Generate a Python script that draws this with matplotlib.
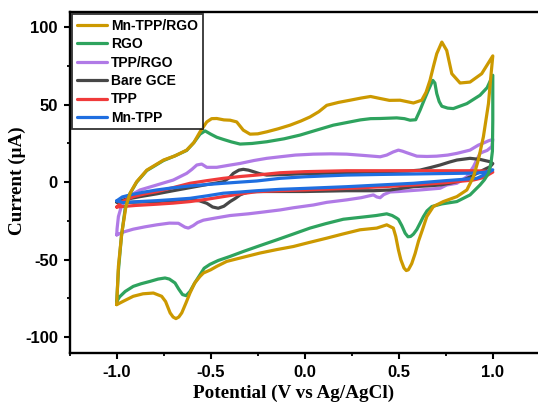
import matplotlib
matplotlib.use("Agg")
import matplotlib.pyplot as plt
from matplotlib.ticker import MultipleLocator

labels = ["Mn-TPP/RGO", "RGO", "TPP/RGO", "Bare GCE", "TPP", "Mn-TPP"]
colors = ["#CC9900", "#2EA35E", "#B07AE6", "#474747", "#F03A3A", "#1F6EE0"]

# Mn-TPP/RGO
gold_up_x = [-1.0, -0.991, -0.973, -0.951, -0.929, -0.894, -0.84, -0.751, -0.69, -0.628, -0.590, -0.557, -0.521, -0.495, -0.468, -0.43, -0.397, -0.362, -0.327, -0.291, -0.25, -0.202, -0.14, -0.078, -0.02, 0.028, 0.075, 0.117, 0.18, 0.241, 0.30, 0.35, 0.401, 0.45, 0.507, 0.578, 0.622, 0.645, 0.666, 0.685, 0.702, 0.729, 0.755, 0.782, 0.826, 0.879, 0.941, 1.0]
gold_up_y = [-79, -54.3, -32.9, -15.7, -7.1, 0.3, 7.8, 14.3, 17, 20.7, 25.5, 32.5, 38.9, 41, 41.1, 40.2, 40, 38.9, 33.6, 31, 31.2, 32.5, 34.5, 36.8, 39.5, 42.1, 45.5, 49.6, 51.5, 52.9, 54.3, 55.3, 54, 52.8, 52.9, 51.1, 52.9, 58, 65.7, 75, 82.9, 90.4, 85, 70, 64, 64.6, 70, 81.5]
gold_dn_x = [1.0, 0.988, 0.977, 0.95, 0.923, 0.897, 0.862, 0.809, 0.737, 0.684, 0.649, 0.625, 0.605, 0.587, 0.569, 0.551, 0.54, 0.528, 0.511, 0.498, 0.484, 0.471, 0.436, 0.383, 0.294, 0.2, 0.117, 0.02, -0.061, -0.15, -0.238, -0.33, -0.415, -0.468, -0.50, -0.539, -0.557, -0.585, -0.61, -0.632, -0.654, -0.670, -0.685, -0.700, -0.716, -0.74, -0.761, -0.805, -0.86, -0.912, -0.96, -1.0]
gold_dn_y = [81.5, 66, 50.7, 29.3, 14.3, 3.5, -5, -9.3, -12.5, -15.7, -22.2, -31, -38, -46, -52.5, -56.5, -57, -55.4, -50, -43.6, -35, -29.6, -27.5, -29.6, -30.7, -33.5, -36.1, -39, -41.5, -43.5, -45.7, -48.5, -51.1, -54.3, -56.5, -58.6, -60.8, -65, -71.4, -78, -84.3, -87, -88, -87, -84.3, -77, -73.6, -71.5, -72, -73.6, -76.5, -79]

# RGO
green_up_x = [-1.0, -0.991, -0.975, -0.955, -0.93, -0.894, -0.84, -0.751, -0.69, -0.628, -0.590, -0.557, -0.530, -0.50, -0.468, -0.433, -0.39, -0.344, -0.28, -0.202, -0.11, -0.025, 0.06, 0.152, 0.241, 0.296, 0.35, 0.401, 0.489, 0.53, 0.56, 0.59, 0.613, 0.635, 0.657, 0.681, 0.692, 0.702, 0.715, 0.729, 0.76, 0.79, 0.862, 0.932, 0.97, 1.0]
green_up_y = [-77, -57, -35, -17, -7.5, 0, 7.5, 14, 17, 20.5, 25.5, 31, 33.1, 31, 29, 27.6, 26, 24.6, 25, 26.1, 28, 30.4, 33.5, 36.8, 38.9, 40.2, 41, 41.1, 41.5, 41, 40, 40.3, 46.4, 53, 59.3, 65.7, 64, 57.2, 52, 49, 47.8, 47.5, 50.7, 56.1, 61, 69]
green_dn_x = [1.0, 1.0, 0.998, 0.99, 0.977, 0.955, 0.932, 0.879, 0.809, 0.729, 0.676, 0.65, 0.631, 0.613, 0.596, 0.578, 0.563, 0.549, 0.534, 0.516, 0.498, 0.489, 0.465, 0.436, 0.38, 0.33, 0.205, 0.11, 0.028, -0.06, -0.149, -0.24, -0.327, -0.40, -0.46, -0.504, -0.535, -0.557, -0.585, -0.61, -0.631, -0.65, -0.67, -0.69, -0.72, -0.743, -0.78, -0.823, -0.87, -0.912, -0.955, -0.985, -1.0]
green_dn_y = [69, 40, 20, 12, 5.7, 1.5, -1.8, -8.2, -12.5, -14, -15.7, -18.5, -22.2, -26.5, -30.5, -33.5, -35, -35.2, -32.9, -28, -24, -23.2, -21.5, -20.4, -21.5, -22.2, -23.9, -26.8, -29.6, -33.4, -37.2, -41, -44.7, -48, -50.5, -53, -55.5, -59.7, -65, -70.4, -73.2, -72.5, -69, -65, -62.5, -61.8, -62.5, -64, -65.5, -67.2, -70.5, -74, -77]

# TPP/RGO
purple_up_x = [-1.0, -0.998, -0.991, -0.973, -0.938, -0.876, -0.787, -0.699, -0.628, -0.60, -0.574, -0.548, -0.521, -0.468, -0.40, -0.344, -0.27, -0.202, -0.131, -0.05, 0.046, 0.14, 0.223, 0.32, 0.401, 0.436, 0.47, 0.498, 0.52, 0.543, 0.596, 0.65, 0.702, 0.76, 0.809, 0.879, 0.923, 0.955, 0.977, 1.0]
purple_up_y = [-34, -30, -22.2, -14.7, -9.3, -5, -1.8, 1.4, 5.7, 8.3, 11.1, 11.7, 9.6, 9.6, 11, 12.1, 14, 15.4, 16.4, 17.5, 18.1, 18.3, 18.1, 17.2, 16.4, 17.5, 19.5, 20.7, 20, 19, 16.8, 16.6, 16.8, 17.5, 18.6, 20.7, 23.9, 25.5, 26.7, 27.6]
purple_dn_x = [1.0, 0.995, 0.97, 0.95, 0.932, 0.897, 0.862, 0.809, 0.755, 0.72, 0.613, 0.50, 0.454, 0.42, 0.401, 0.383, 0.365, 0.3, 0.223, 0.117, 0.046, -0.061, -0.131, -0.238, -0.30, -0.397, -0.47, -0.539, -0.57, -0.593, -0.619, -0.637, -0.672, -0.72, -0.787, -0.85, -0.912, -0.96, -1.0]
purple_dn_y = [27.6, 23, 20.5, 19.6, 18.6, 10, 3.5, -0.7, -1.8, -3.9, -5, -6, -6.3, -8, -10, -9.5, -8.2, -10, -11.4, -13, -14.7, -16.5, -17.9, -19.5, -20.4, -21.5, -23, -24.5, -26, -28, -29.6, -29, -26.5, -26.4, -27.5, -28.8, -30.3, -32, -34]

# Bare GCE
gray_up_x = [-1.0, -0.95, -0.876, -0.787, -0.70, -0.61, -0.52, -0.47, -0.433, -0.40, -0.38, -0.35, -0.327, -0.30, -0.273, -0.24, -0.202, -0.1, 0.0, 0.2, 0.401, 0.55, 0.613, 0.67, 0.72, 0.77, 0.809, 0.879, 0.932, 0.986, 1.0]
gray_up_y = [-12.5, -11, -9.3, -7.5, -5.5, -3.5, -1.5, -0.5, 0.3, 3, 5.7, 7.8, 8.3, 7.8, 6.8, 5.5, 4.6, 5, 5.5, 6, 6.8, 7.2, 7.8, 9.5, 11.1, 13, 14.3, 15.4, 14.7, 13.2, 12]
gray_dn_x = [1.0, 0.986, 0.96, 0.932, 0.89, 0.844, 0.78, 0.72, 0.65, 0.578, 0.454, 0.365, 0.223, 0.0, -0.2, -0.291, -0.32, -0.344, -0.37, -0.397, -0.43, -0.46, -0.49, -0.521, -0.56, -0.61, -0.70, -0.787, -0.88, -0.95, -1.0]
gray_dn_y = [12, 10, 8.5, 6.8, 4, 1.4, -0.5, -1.8, -2.4, -2.9, -5, -5.5, -5.5, -6, -6, -6.1, -7, -8.2, -10.5, -12.5, -15.5, -16.8, -16, -13.6, -12, -11.4, -11.8, -12.5, -12.8, -13, -13]

# TPP
red_up_x = [-1.0, -0.97, -0.912, -0.85, -0.787, -0.70, -0.61, -0.52, -0.433, -0.34, -0.255, -0.131, 0.0, 0.223, 0.4, 0.578, 0.75, 0.897, 0.95, 1.0]
red_up_y = [-16, -12.5, -9.3, -7.5, -6.1, -3.5, -0.7, 1, 2.5, 3.7, 4.6, 6.1, 6.8, 7.4, 7.4, 7.4, 7.4, 7.4, 7.2, 6.5]
red_dn_x = [1.0, 0.95, 0.897, 0.75, 0.578, 0.4, 0.223, 0.0, -0.131, -0.255, -0.34, -0.433, -0.52, -0.61, -0.70, -0.787, -0.9, -0.97, -1.0]
red_dn_y = [6.5, 3, 1.4, -0.3, -1.8, -3, -4, -5, -5.5, -6.1, -7.5, -9.3, -11, -12.5, -13.5, -14.2, -15, -15.7, -16]

# Mn-TPP
blue_up_x = [-1.0, -0.97, -0.929, -0.86, -0.787, -0.70, -0.61, -0.52, -0.433, -0.34, -0.255, -0.131, 0.0, 0.223, 0.4, 0.578, 0.75, 0.915, 0.96, 1.0]
blue_up_y = [-12, -9.5, -8.2, -6.5, -5, -3.6, -2.4, -1.5, -0.7, 0.1, 0.8, 2.5, 3.5, 4.6, 5, 5.3, 5.6, 5.9, 6.5, 8]
blue_dn_x = [1.0, 0.96, 0.915, 0.75, 0.578, 0.4, 0.223, 0.0, -0.131, -0.255, -0.34, -0.433, -0.52, -0.61, -0.70, -0.787, -0.88, -0.965, -1.0]
blue_dn_y = [8, 5, 2.5, 1.0, -0.7, -1.8, -2.9, -4, -4.6, -5.5, -6.3, -7.1, -8.8, -10.4, -11.2, -11.9, -12.5, -13.2, -12]

xticks = [-1.0, -0.5, 0.0, 0.5, 1.0]
yticks = [-100, -50, 0, 50, 100]

series = [
    (gold_up_x + gold_dn_x, gold_up_y + gold_dn_y),
    (green_up_x + green_dn_x, green_up_y + green_dn_y),
    (purple_up_x + purple_dn_x, purple_up_y + purple_dn_y),
    (gray_up_x + gray_dn_x, gray_up_y + gray_dn_y),
    (red_up_x + red_dn_x, red_up_y + red_dn_y),
    (blue_up_x + blue_dn_x, blue_up_y + blue_dn_y),
]
zorders = [8, 7, 3, 4, 5, 6]

fig = plt.figure(figsize=(5.38, 4.05), dpi=100)
ax = fig.add_axes([69.7 / 538, 1 - 352.7 / 405, 470.1 / 538, 341.0 / 405])

for (xs, ys), lab, col, z in zip(series, labels, colors, zorders):
    ax.plot(xs, ys, color=col, lw=2.3, label=lab, zorder=z,
            solid_joinstyle="round", solid_capstyle="round")

ax.set_xlim(-1.25, 1.25)
ax.set_ylim(-110, 110)
ax.set_xticks(xticks)
ax.set_yticks(yticks)
ax.set_xticklabels([f"{t:.1f}" for t in xticks])
ax.set_yticklabels([str(t) for t in yticks])
ax.xaxis.set_minor_locator(MultipleLocator(0.25))
ax.yaxis.set_minor_locator(MultipleLocator(25))

for s in ax.spines.values():
    s.set_linewidth(1.7)
ax.spines["right"].set_visible(False)

ax.tick_params(which="major", direction="out", length=4.5, width=1.5, pad=4)
ax.tick_params(which="minor", direction="out", length=2.2, width=1.3)
ax.tick_params(right=False, top=False, which="both")
for lab in ax.get_xticklabels() + ax.get_yticklabels():
    lab.set_fontfamily("Liberation Sans")
    lab.set_fontweight("bold")
    lab.set_fontsize(12)

ax.set_xlabel("Potential (V vs Ag/AgCl)", fontfamily="Liberation Serif",
              fontweight="bold", fontsize=13.8)
ax.set_ylabel("Current (μA)", fontfamily="Liberation Serif",
              fontweight="bold", fontsize=13.8)
ax.xaxis.set_label_coords(0.477, -0.094)
ax.yaxis.set_label_coords(-0.092, 0.503)

leg = ax.legend(loc="upper left", frameon=True, fancybox=False, shadow=False,
                prop={"family": "Liberation Sans", "weight": "bold", "size": 10},
                handlelength=2.2, handletextpad=0.3, labelspacing=0.32,
                borderpad=0.3, borderaxespad=0.2)
leg.get_frame().set_edgecolor("black")
leg.get_frame().set_linewidth(1.3)
leg.set_zorder(10)

fig.savefig("out.png", dpi=100)
